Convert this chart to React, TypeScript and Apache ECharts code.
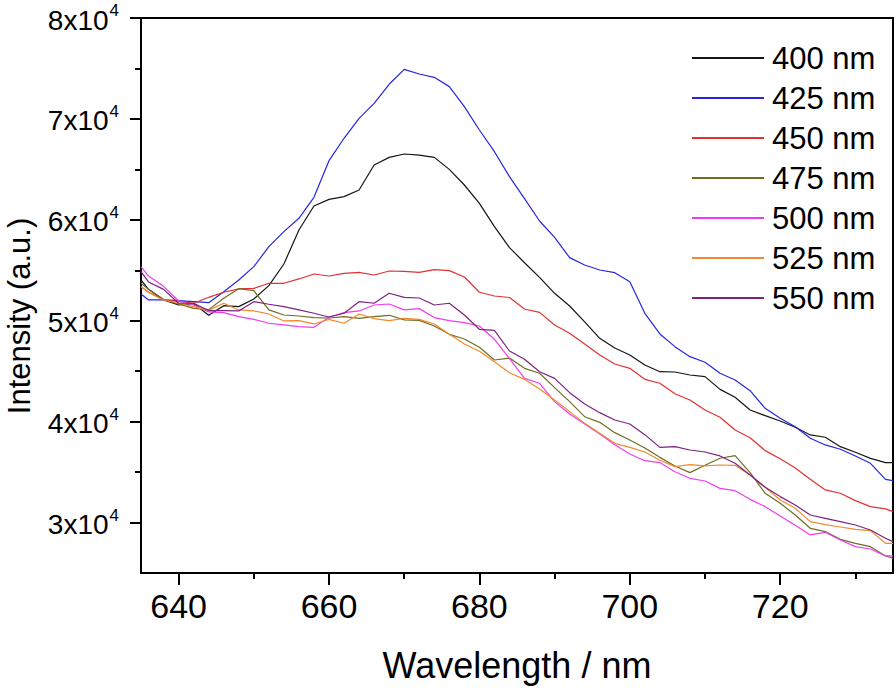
import React, { useEffect, useRef } from "react";
import * as echarts from "echarts";

const FONT = "'Liberation Sans', Arial, Helvetica, sans-serif";

const wavelengths = [
  635, 636, 638, 640, 642, 644, 646, 648, 650, 652, 654, 656, 658, 660, 662, 664, 666, 668, 670, 672,
  674, 676, 678, 680, 682, 684, 686, 688, 690, 692, 694, 696, 698, 700, 702, 704, 706, 708, 710, 712,
  714, 716, 718, 720, 722, 724, 726, 728, 730, 732, 734, 735,
];

const ex400 = [
  54040, 53110, 52060, 51560, 51700, 50540, 51490, 51400, 52160, 53480, 55620, 58990, 61370, 62030, 62300, 62960, 65430, 66190, 66520, 66420,
  66190, 65000, 63450, 61630, 59320, 57250, 55750, 54300, 52715, 51460, 49880, 48260, 47300, 46600, 45610, 44950, 44920, 44620, 44460, 43200,
  42410, 41150, 40590, 40060, 39440, 38680, 38450, 37520, 36960, 36360, 35940, 35940,
];
const ex425 = [
  52650, 52060, 52060, 51990, 51890, 51790, 52880, 54040, 55360, 57340, 58830, 60150, 62230, 65860, 68080, 70060, 71540, 73430, 74910, 74450,
  74120, 73200, 71220, 68900, 66750, 64280, 62100, 59880, 58260, 56250, 55520, 55030, 54760, 53870, 50730, 48690, 47430, 46440, 45880, 44790,
  44130, 43070, 41320, 40330, 39500, 38350, 37690, 37260, 36600, 35870, 34280, 34150,
];
const ex450 = [
  53380, 52820, 52060, 51920, 51730, 52320, 52820, 53150, 53210, 53710, 53710, 54140, 54630, 54430, 54700, 54800, 54530, 54930, 54900, 54800,
  55060, 54960, 54330, 52820, 52450, 52300, 51160, 50830, 49580, 48750, 47700, 46600, 45710, 45280, 44190, 43800, 42770, 42150, 41150, 40430,
  39170, 38410, 37130, 36330, 35410, 34290, 33230, 32900, 32170, 31580, 31350, 31080,
];
const ex475 = [
  53710, 53110, 52120, 51660, 51230, 51100, 52220, 53180, 52980, 51070, 50570, 50470, 50310, 50270, 50410, 50240, 50410, 50540, 50080, 50040,
  49480, 48650, 48190, 47370, 46110, 46300, 45280, 44790, 43370, 41980, 40490, 39930, 38910, 38180, 37390, 36460, 35600, 34950, 35670, 36370,
  36630, 34950, 32900, 31910, 30750, 29430, 29100, 28340, 27940, 27610, 26690, 26460,
];
const ex500 = [
  55360, 54430, 53410, 51960, 51560, 50870, 50800, 50400, 50140, 49750, 49580, 49410, 49350, 50340, 50800, 50970, 51560, 51660, 51070, 51200,
  50310, 50010, 49810, 49480, 48160, 46240, 44290, 43800, 41980, 40760, 39770, 38780, 37720, 36800, 36130, 35940, 35040, 34385, 34120, 33390,
  33160, 32300, 31575, 30650, 29725, 28770, 29030, 28270, 27610, 27380, 26690, 26690,
];
const ex525 = [
  53380, 52820, 52060, 51730, 51400, 51030, 51730, 51070, 50970, 50670, 49980, 50010, 49680, 50140, 49750, 50670, 50210, 50010, 50240, 50140,
  49680, 48650, 47700, 46970, 45940, 44840, 44190, 43240, 42150, 40990, 39830, 38840, 37850, 37450, 36990, 36170, 35540, 35740, 35610, 35705,
  35670, 34715, 33490, 32240, 31410, 30090, 29790, 29560, 29330, 29200, 27940, 27940,
];
const ex550 = [
  54860, 53840, 53110, 51730, 51730, 51000, 51000, 50970, 51890, 51630, 51400, 51070, 50740, 50370, 50740, 51890, 51730, 52720, 52320, 52250,
  51560, 51730, 50570, 49150, 49050, 47000, 46175, 44950, 44290, 42870, 41750, 40890, 40160, 39770, 38710, 37450, 37520, 37190, 36990, 36600,
  35870, 34715, 33490, 32570, 31740, 30750, 30420, 30090, 29760, 29260, 28440, 28110,
];

const seriesNames = ["400 nm", "425 nm", "450 nm", "475 nm", "500 nm", "525 nm", "550 nm"];
const seriesValues = [ex400, ex425, ex450, ex475, ex500, ex525, ex550];
const seriesColors = ["#151515", "#2626e0", "#e03232", "#6e6e22", "#f03cf0", "#f08a2c", "#7d237d"];

const xMajorTicks = [640, 660, 680, 700, 720];
const xMinorTicks = [650, 670, 690, 710, 730];
const yMajorTicks = [30000, 40000, 50000, 60000, 70000, 80000];
const yMinorTicks = [35000, 45000, 55000, 65000, 75000];

const xTitle = "Wavelength / nm";
const yTitle = "Intensity (a.u.)";

export default function App() {
  const ref = useRef<HTMLDivElement>(null);

  useEffect(() => {
    if (!ref.current) return;
    const chart = echarts.init(ref.current, undefined, { renderer: "svg" });
    const axisLineStyle = { color: "#000", width: 2 };
    const option: any = {
      animation: false,
      backgroundColor: "#ffffff",
      grid: {
        left: 141,
        right: 3,
        top: 18,
        bottom: 118,
        show: true,
        borderColor: "#000",
        borderWidth: 2,
        backgroundColor: "transparent",
        containLabel: false,
        outerBoundsMode: "none",
      },
      legend: {
        orient: "vertical",
        left: 687,
        top: 33,
        icon: "rect",
        itemWidth: 72,
        itemHeight: 2,
        itemGap: 0,
        data: seriesNames,
        textStyle: { fontSize: 31, lineHeight: 40, color: "#000", fontFamily: FONT, padding: [0, 0, 0, 3] },
      },
      graphic: [
        {
          type: "text",
          x: 19,
          y: 316,
          rotation: Math.PI / 2,
          silent: true,
          style: {
            text: yTitle,
            x: 0,
            y: 0,
            fill: "#000",
            font: `31px ${FONT}`,
            textAlign: "center",
            textVerticalAlign: "middle",
          },
        },
      ],
      xAxis: [
        {
          type: "value",
          min: 635,
          max: 735,
          position: "bottom",
          axisLine: { show: true, lineStyle: axisLineStyle },
          axisTick: { show: true, inside: false, length: 12, customValues: xMajorTicks, lineStyle: axisLineStyle },
          axisLabel: { customValues: xMajorTicks, fontSize: 34, color: "#000", margin: 16, fontFamily: FONT },
          splitLine: { show: false },
          name: xTitle,
          nameLocation: "middle",
          nameGap: 74,
          nameTextStyle: { fontSize: 36, color: "#000", fontFamily: FONT },
        },
        {
          type: "value",
          min: 635,
          max: 735,
          position: "bottom",
          axisLine: { show: false },
          axisTick: { show: true, inside: false, length: 6, customValues: xMinorTicks, lineStyle: axisLineStyle },
          axisLabel: { show: false },
          splitLine: { show: false },
        },
      ],
      yAxis: [
        {
          type: "value",
          min: 25000,
          max: 80000,
          position: "left",
          axisLine: { show: true, lineStyle: axisLineStyle },
          axisTick: { show: true, inside: false, length: 11, customValues: yMajorTicks, lineStyle: axisLineStyle },
          axisLabel: {
            customValues: yMajorTicks,
            margin: 22,
            color: "#000",
            fontFamily: FONT,
            formatter: (v: number) => `{m|${Math.round(v / 10000)}x10}{s|4}`,
            rich: {
              m: { fontSize: 28, lineHeight: 32, fontFamily: FONT, color: "#000", verticalAlign: "bottom" },
              s: { fontSize: 17, lineHeight: 17, fontFamily: FONT, color: "#000", verticalAlign: "top", padding: [0, 0, 0, 1] },
            },
          },
          splitLine: { show: false },
        },
        {
          type: "value",
          min: 25000,
          max: 80000,
          position: "left",
          axisLine: { show: false },
          axisTick: { show: true, inside: false, length: 6, customValues: yMinorTicks, lineStyle: axisLineStyle },
          axisLabel: { show: false },
          splitLine: { show: false },
        },
      ],
      series: seriesNames.map((name, i) => ({
        name,
        type: "line",
        xAxisIndex: 0,
        yAxisIndex: 0,
        showSymbol: false,
        symbol: "none",
        data: wavelengths.map((w, j) => [w, seriesValues[i][j]]),
        lineStyle: { color: seriesColors[i], width: 1.2 },
        itemStyle: { color: seriesColors[i] },
      })),
    };
    chart.setOption(option);
    return () => chart.dispose();
  }, []);

  return (
    <div
      ref={ref}
      style={{ position: "fixed", left: 0, top: 0, width: 896, height: 691, background: "#fff" }}
    />
  );
}
